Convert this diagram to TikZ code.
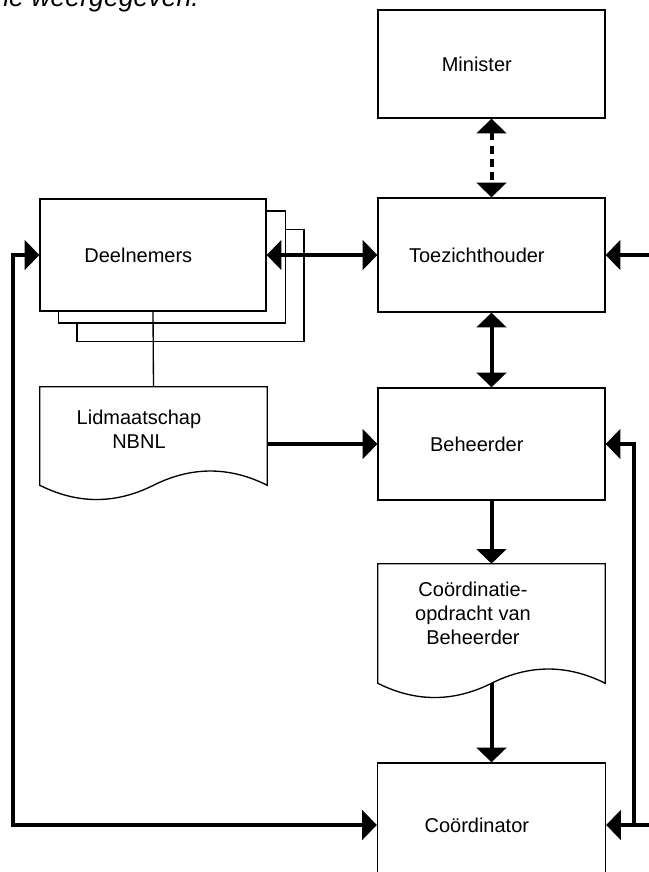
\documentclass[tikz,border=0pt]{standalone}
\usepackage{fontspec}
\setmainfont{Liberation Sans}
\usetikzlibrary{arrows.meta,positioning,calc}

\tikzset{
  box/.style={rectangle, draw, line width=1pt, fill=white, inner sep=0pt,
              minimum width=170.25pt, minimum height=84pt,
              font=\fontsize{15}{18}\selectfont,
              execute at begin node={\hspace*{-22pt}}},
  docbox/.style={rectangle, draw=none, inner sep=0pt, minimum width=170.25pt},
  doctekst/.style={align=center, inner sep=0pt, font=\fontsize{15}{18}\selectfont},
  bijschrift/.style={inner sep=0pt, font=\fontsize{20}{24}\selectfont\itshape},
  lijn/.style={line width=1pt},
  pijl/.style={line width=3pt}
}

% documentsymbool met golvende onderrand: #1 node, #2 extra zijlengte
\newcommand{\documentvorm}[2]{%
  \draw[lijn] (#1.north west) -- (#1.north east) -- ($(#1.south east)+(0,#2)$)
    .. controls +(-38,-19) and +(38,-19) .. ($(#1.south)+(0,#2)$) coordinate (#1-golf)
    .. controls +(-38,19) and +(38,19) .. ($(#1.south west)+(0,#2)$) -- cycle;
}

\begin{document}
\begin{tikzpicture}[x=0.75pt, y=-0.75pt, >={Triangle[width=22pt,length=11pt]}]
  \useasboundingbox (0,0) rectangle (649,872);
  \clip (0,0) rectangle (649,872);

  % afgesneden bijschrift
  \node[bijschrift, anchor=base west] (bijschrift) at (3,6) {ie weergegeven.};

  % rechterkolom
  \node[box, minimum height=81pt] (minister) at (491.5,64) {Minister};
  \node[box, minimum height=85.5pt] (toezicht) at (491.5,255) {Toezichthouder};
  \node[box] (beheerder) at (491.5,444) {Beheerder};
  \node[docbox, minimum height=73.5pt,
        label={[doctekst, xshift=-13.9pt]center:Coördinatie-\\opdracht van\\Beheerder}]
        (opdracht) at (491.5,613) {};
  \node[box, minimum height=93pt, minimum width=171pt] (coordinator) at (491.5,825) {Coördinator};

  % deelnemers, gestapeld
  \node[box] (deelnemers3) at (190.5,285.5) {};
  \node[box] (deelnemers2) at (172,267) {};
  \node[box, minimum width=169.5pt] (deelnemers) at (153,255) {Deelnemers};
  \node[docbox, minimum height=63pt,
        label={[doctekst, xshift=-10.9pt]center:Lidmaatschap\\NBNL}]
        (lidmaatschap) at (153.5,429) {};

  \documentvorm{lidmaatschap}{14}
  \documentvorm{opdracht}{21}

  % hulppunten
  \coordinate (linksrail) at (12.5,0);
  \coordinate (rechtsrail) at (634,0);
  \coordinate (rechtsboven) at (655,255);
  \coordinate (rechtsonder) at (655,825);

  % verbindingen
  \draw[lijn] (deelnemers.south) -- (lidmaatschap.north);
  \draw[pijl, <->, dash pattern=on 6pt off 4pt] (minister.south) -- (toezicht.north);
  \draw[pijl, <->] (deelnemers.east) -- (toezicht.west);
  \draw[pijl, <->] (toezicht.south) -- (beheerder.north);
  \draw[pijl, ->] (beheerder.west -| lidmaatschap.east) -- (beheerder.west);
  \draw[pijl, ->] (beheerder.south) -- (opdracht.north);
  \draw[pijl, ->] (opdracht-golf) -- (coordinator.north);
  \draw[pijl, <-] (toezicht.east) -- (rechtsboven);
  \draw[pijl, <->] (deelnemers.west) -- (deelnemers.west -| linksrail)
    -- (linksrail |- coordinator.west) -- (coordinator.west);
  \draw[pijl, <->] (beheerder.east) -- (beheerder.east -| rechtsrail)
    -- (rechtsrail |- coordinator.east) -- (coordinator.east);
  \draw[pijl] (coordinator.east -| rechtsrail) -- (rechtsonder);
\end{tikzpicture}
\end{document}
